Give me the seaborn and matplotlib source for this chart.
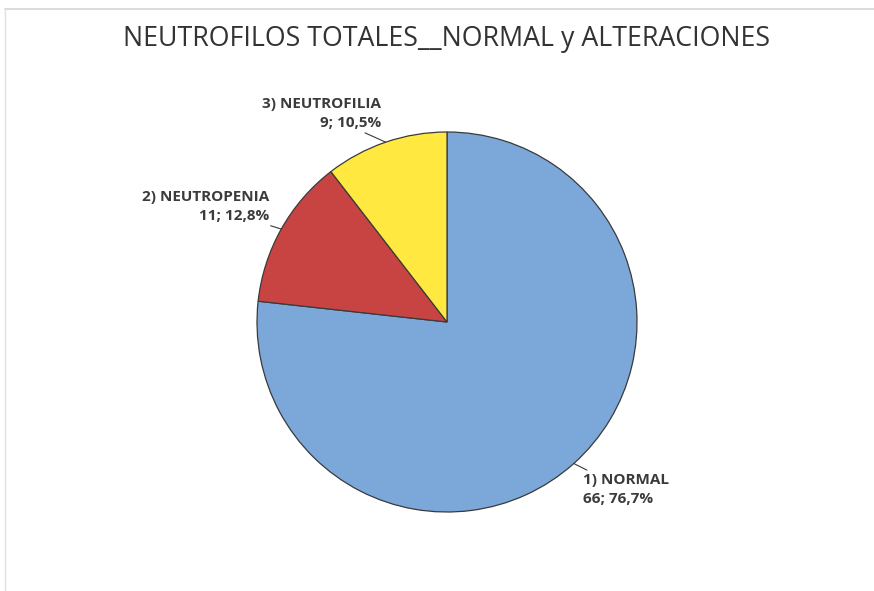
import matplotlib.pyplot as plt
import numpy as np
import seaborn as sns
from matplotlib.lines import Line2D

# Data
categories = ["1) NORMAL", "2) NEUTROPENIA", "3) NEUTROFILIA"]
counts = [66, 11, 9]
colors = ["#7BA7D9", "#C84442", "#FFE840"]

sns.set_theme(style="white")
plt.rcParams["font.family"] = ["Open Sans", "DejaVu Sans"]

fig = plt.figure(figsize=(8.74, 5.91), dpi=100)
fig.patch.set_facecolor("white")

# pie axes: square, centred on the pie
ax = fig.add_axes([257 / 874, 79 / 591, 380 / 874, 380 / 591])
wedges, _ = ax.pie(
    counts,
    colors=colors,
    startangle=90,
    counterclock=False,
    radius=1.0,
    wedgeprops=dict(edgecolor="#3a3a3a", linewidth=0.9),
)
ax.set_xlim(-1, 1)
ax.set_ylim(-1, 1)
ax.set_aspect("equal")
ax.axis("off")

total = sum(counts)
for w, name, n in zip(wedges, categories, counts):
    mid = np.deg2rad((w.theta1 + w.theta2) / 2)
    cx, cy = np.cos(mid), np.sin(mid)
    pct = f"{100 * n / total:.1f}".replace(".", ",")
    ax.annotate(
        f"{name}\n{n}; {pct}%",
        xy=(cx, cy),
        xytext=(1.07 * cx, 1.07 * cy),
        ha="left" if cx > 0 else "right",
        va="top" if cy < 0 else "bottom",
        multialignment="left" if cx > 0 else "right",
        fontsize=11,
        fontweight="bold",
        color="#3b3b3b",
        linespacing=1.4,
        arrowprops=dict(arrowstyle="-", color="#3a3a3a", lw=0.8, shrinkA=0, shrinkB=0),
        annotation_clip=False,
    )

fig.text(447 / 874, 1 - 39 / 591, "NEUTROFILOS TOTALES__NORMAL y ALTERACIONES",
         ha="center", va="center", fontsize=19.3, color="#333333")

# light frame lines on top and left
fig.add_artist(Line2D([5 / 874, 1], [1 - 8.5 / 591] * 2, color="#d4d4d4", lw=1.2))
fig.add_artist(Line2D([5 / 874] * 2, [0, 1 - 8.5 / 591], color="#e0e0e0", lw=1.0))

fig.savefig("out.png", dpi=100, facecolor="white")
